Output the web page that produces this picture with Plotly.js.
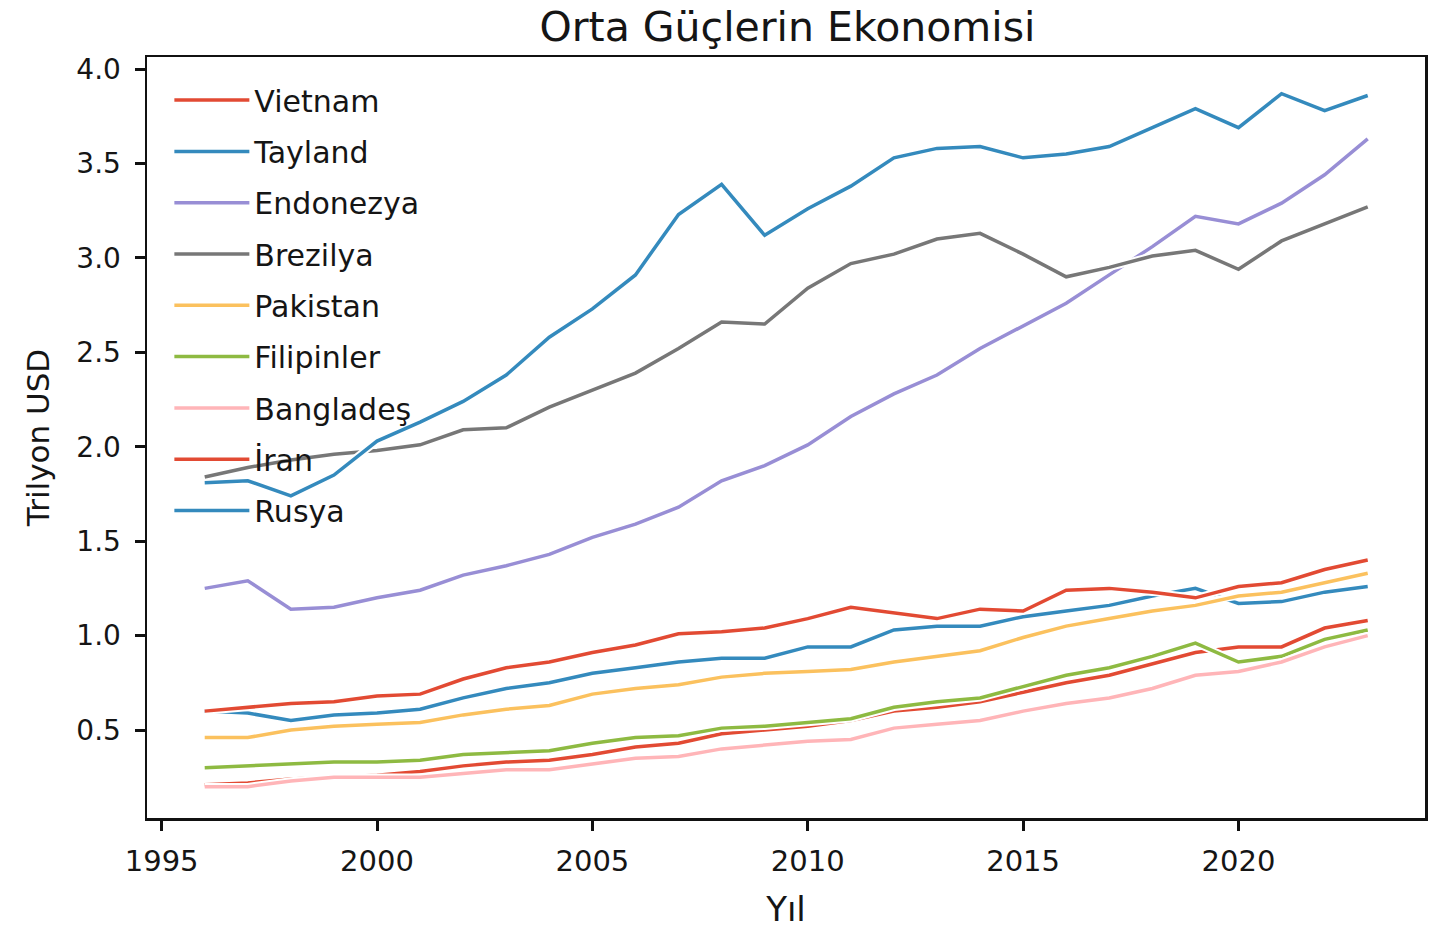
<!DOCTYPE html>
<html>
<head>
<meta charset="utf-8">
<script src="https://cdn.plot.ly/plotly-3.0.1.min.js"></script>
<style>html,body{margin:0;padding:0;background:#fff;}#chart{width:1437px;height:929px;}</style>
</head>
<body>
<div id="chart"></div>
<script>
const years = [1996,1997,1998,1999,2000,2001,2002,2003,2004,2005,2006,2007,2008,2009,2010,2011,2012,2013,2014,2015,2016,2017,2018,2019,2020,2021,2022,2023];

const vietnam    = [0.21,0.22,0.24,0.25,0.26,0.28,0.31,0.33,0.34,0.37,0.41,0.43,0.48,0.50,0.52,0.55,0.60,0.62,0.65,0.70,0.75,0.79,0.85,0.91,0.94,0.94,1.04,1.08];
const tayland    = [0.60,0.59,0.55,0.58,0.59,0.61,0.67,0.72,0.75,0.80,0.83,0.86,0.88,0.88,0.94,0.94,1.03,1.05,1.05,1.10,1.13,1.16,1.21,1.25,1.17,1.18,1.23,1.26];
const endonezya  = [1.25,1.29,1.14,1.15,1.20,1.24,1.32,1.37,1.43,1.52,1.59,1.68,1.82,1.90,2.01,2.16,2.28,2.38,2.52,2.64,2.76,2.91,3.06,3.22,3.18,3.29,3.44,3.63];
const brezilya   = [1.84,1.89,1.93,1.96,1.98,2.01,2.09,2.10,2.21,2.30,2.39,2.52,2.66,2.65,2.84,2.97,3.02,3.10,3.13,3.02,2.90,2.95,3.01,3.04,2.94,3.09,3.18,3.27];
const pakistan   = [0.46,0.46,0.50,0.52,0.53,0.54,0.58,0.61,0.63,0.69,0.72,0.74,0.78,0.80,0.81,0.82,0.86,0.89,0.92,0.99,1.05,1.09,1.13,1.16,1.21,1.23,1.28,1.33];
const filipinler = [0.30,0.31,0.32,0.33,0.33,0.34,0.37,0.38,0.39,0.43,0.46,0.47,0.51,0.52,0.54,0.56,0.62,0.65,0.67,0.73,0.79,0.83,0.89,0.96,0.86,0.89,0.98,1.03];
const banglades  = [0.20,0.20,0.23,0.25,0.25,0.25,0.27,0.29,0.29,0.32,0.35,0.36,0.40,0.42,0.44,0.45,0.51,0.53,0.55,0.60,0.64,0.67,0.72,0.79,0.81,0.86,0.94,1.00];
const iran       = [0.60,0.62,0.64,0.65,0.68,0.69,0.77,0.83,0.86,0.91,0.95,1.01,1.02,1.04,1.09,1.15,1.12,1.09,1.14,1.13,1.24,1.25,1.23,1.20,1.26,1.28,1.35,1.40];
const rusya      = [1.81,1.82,1.74,1.85,2.03,2.13,2.24,2.38,2.58,2.73,2.91,3.23,3.39,3.12,3.26,3.38,3.53,3.58,3.59,3.53,3.55,3.59,3.69,3.79,3.69,3.87,3.78,3.86];

const names  = ["Vietnam","Tayland","Endonezya","Brezilya","Pakistan","Filipinler","Bangladeş","İran","Rusya"];
const series = [vietnam,tayland,endonezya,brezilya,pakistan,filipinler,banglades,iran,rusya];
const colors = ["#E24A33","#348ABD","#988ED5","#777777","#FBC15E","#8EBA42","#FFB5B8","#E24A33","#348ABD"];

const FONT = "'DejaVu Sans', sans-serif";
const traces = [];
series.forEach((vals, i) => {
  traces.push({
    x: years, y: vals, type: "scatter", mode: "lines",
    line: {color: "#ffffff", width: 7.5},
    showlegend: false, hoverinfo: "skip"
  });
  traces.push({
    x: years, y: vals, type: "scatter", mode: "lines",
    name: names[i], legendgroup: names[i],
    line: {color: colors[i], width: 3.5}
  });
});

const layout = {
  width: 1437, height: 929,
  paper_bgcolor: "#ffffff", plot_bgcolor: "#ffffff",
  margin: {l: 147, r: 12, t: 57, b: 111},
  font: {family: FONT, color: "#151515"},
  title: {text: "Orta Güçlerin Ekonomisi", font: {family: FONT, size: 41, color: "#151515"},
          x: 0.548, xanchor: "center", y: 0.971, yanchor: "middle"},
  xaxis: {
    range: [1994.66, 2024.33], tickmode: "array",
    tickvals: [1995,2000,2005,2010,2015,2020], ticktext: ["1995","2000","2005","2010","2015","2020"],
    showgrid: false, zeroline: false,
    showline: true, mirror: true, linecolor: "#111", linewidth: 2.5,
    ticks: "outside", ticklen: 10, tickwidth: 3, tickcolor: "#111",
    ticklabelstandoff: 6,
    tickfont: {family: FONT, size: 29, color: "#151515"},
    title: {text: "Yıl", font: {family: FONT, size: 34, color: "#151515"}, standoff: 22}
  },
  yaxis: {
    range: [0.034, 4.064], tickmode: "array",
    tickvals: [0.5,1.0,1.5,2.0,2.5,3.0,3.5,4.0], ticktext: ["0.5","1.0","1.5","2.0","2.5","3.0","3.5","4.0"],
    showgrid: false, zeroline: false,
    showline: true, mirror: true, linecolor: "#111", linewidth: 2.5,
    ticks: "outside", ticklen: 10, tickwidth: 3, tickcolor: "#111",
    ticklabelstandoff: 8,
    tickfont: {family: FONT, size: 28, color: "#151515"},
    title: {text: "Trilyon USD", font: {family: FONT, size: 31, color: "#151515"}, standoff: 18}
  },
  legend: {
    x: 0.0175, y: 0.9775, xanchor: "left", yanchor: "top",
    bgcolor: "rgba(0,0,0,0)", borderwidth: 0,
    font: {family: FONT, size: 30, color: "#151515"},
    tracegroupgap: 9.3, itemwidth: 75
  },
  showlegend: true
};

Plotly.newPlot("chart", traces, layout, {displayModeBar: false, staticPlot: true});
</script>
</body>
</html>
